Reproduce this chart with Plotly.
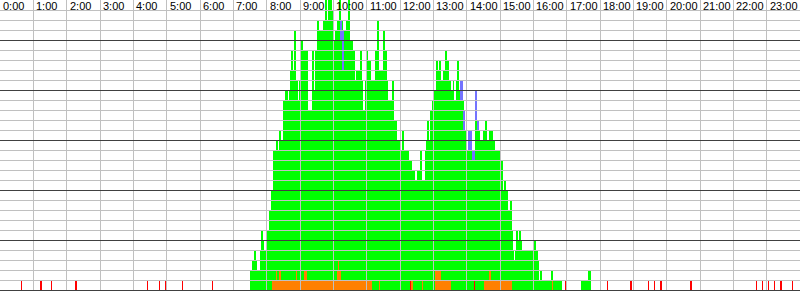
import math
import plotly.graph_objects as go

# ---- data (minutes of day) ----
hour_labels = ["0:00", "1:00", "2:00", "3:00", "4:00", "5:00", "6:00", "7:00",
               "8:00", "9:00", "10:00", "11:00", "12:00", "13:00", "14:00", "15:00",
               "16:00", "17:00", "18:00", "19:00", "20:00", "21:00", "22:00", "23:00"]

seg_start = [450, 454, 457, 461, 462, 468, 470, 473, 476, 478, 480, 485, 489, 492, 493, 496, 497, 499, 500, 502,
             503, 505, 509, 510, 513, 515, 517, 518, 521, 522, 524, 526, 530, 533, 535, 539, 541, 545, 546, 550,
             551, 553, 559, 561, 563, 565, 567, 571, 575, 582, 585, 589, 591, 593, 594, 598, 600, 603, 607, 608,
             611, 613, 615, 617, 619, 623, 628, 630, 636, 637, 639, 642, 644, 646, 648, 651, 653, 657, 660, 663,
             668, 669, 675, 679, 681, 682, 684, 690, 693, 696, 699, 706, 710, 714, 720, 725, 728, 736, 738, 740,
             741, 743, 747, 750, 757, 760, 763, 765, 768, 770, 772, 774, 778, 780, 783, 785, 787, 791, 793, 797,
             801, 803, 805, 807, 811, 813, 816, 817, 821, 823, 826, 829, 830, 832, 833, 834, 837, 840, 843, 845,
             846, 848, 849, 853, 855, 856, 859, 862, 864, 870, 871, 874, 877, 881, 884, 886, 891, 894, 896, 897,
             899, 905, 908, 911, 914, 918, 920, 922, 924, 928, 930, 932, 935, 937, 940, 960, 964, 968, 970, 973,
             975, 993, 996, 1012, 1046, 1060]
seg_last_end = 1063

seg_red = [0, 0, 0, 0, 0, 0, 0, 0, 0, 0, 0, 0, 0, 0, 0, 0, 0, 0, 0, 0,
           0, 0, 0, 0, 0, 0, 0, 0, 0, 0, 0, 0, 0, 0, 0, 0, 0, 0, 0, 0,
           0, 0, 0, 0, 0, 0, 0, 0, 0, 0, 0, 0, 0, 0, 0, 0, 0, 0, 0, 0,
           0, 0, 0, 0, 0, 0, 0, 0, 0, 0, 0, 0, 0, 0, 0, 0, 0, 0, 0, 0,
           0, 0, 0, 0, 0, 0, 0, 0, 0, 0, 0, 0, 0, 0, 0, 0, 0, 0, 1, 0,
           0, 0, 0, 0, 0, 0, 0, 0, 0, 0, 0, 0, 0, 0, 0, 0, 0, 0, 0, 0,
           0, 0, 1, 0, 0, 0, 0, 0, 0, 0, 0, 0, 0, 0, 0, 0, 0, 0, 0, 0,
           0, 0, 0, 1, 0, 0, 0, 0, 0, 0, 0, 0, 0, 0, 0, 0, 0, 0, 0, 0,
           0, 0, 0, 0, 0, 0, 0, 0, 0, 0, 0, 0, 0, 0, 0, 0, 0, 0, 0, 0,
           0, 0, 0, 0, 0, 0]

seg_orange = [0, 0, 0, 0, 0, 0, 0, 0, 0, 0, 0, 0, 1, 1, 1, 2, 2, 1, 1, 2,
              2, 1, 1, 1, 1, 1, 1, 1, 1, 1, 1, 1, 1, 2, 1, 1, 1, 1, 2, 2,
              2, 1, 1, 1, 1, 1, 1, 1, 1, 1, 1, 1, 1, 1, 1, 1, 1, 1, 2, 3,
              2, 2, 1, 1, 1, 1, 1, 1, 2, 1, 1, 1, 1, 1, 1, 1, 1, 1, 1, 1,
              1, 0, 0, 0, 0, 1, 0, 0, 0, 0, 0, 0, 0, 0, 0, 0, 0, 0, 0, 1,
              1, 0, 0, 0, 0, 1, 0, 0, 0, 0, 0, 0, 0, 0, 2, 2, 2, 2, 1, 1,
              1, 1, 1, 1, 1, 0, 0, 0, 0, 0, 0, 0, 1, 0, 0, 0, 0, 0, 0, 0,
              0, 0, 0, 0, 0, 0, 0, 0, 0, 0, 1, 1, 1, 2, 1, 1, 1, 2, 1, 2,
              1, 1, 1, 1, 1, 1, 1, 0, 0, 0, 0, 0, 0, 0, 0, 0, 0, 0, 0, 0,
              0, 1, 0, 0, 0, 0]

seg_green = [2, 3, 4, 3, 2, 4, 6, 5, 4, 2, 6, 8, 9, 12, 13, 12, 13, 14, 13, 12,
             14, 14, 13, 18, 19, 18, 19, 18, 19, 21, 23, 21, 25, 19, 18, 20, 24, 21, 22, 19,
             22, 17, 14, 17, 23, 19, 23, 26, 25, 26, 28, 26, 28, 26, 28, 27, 24, 25, 25, 24,
             27, 23, 26, 21, 25, 26, 28, 24, 22, 23, 20, 21, 18, 21, 23, 20, 17, 20, 23, 22,
             20, 21, 24, 27, 22, 21, 22, 26, 24, 21, 19, 21, 17, 15, 14, 16, 14, 13, 12, 12,
             11, 12, 11, 12, 14, 10, 11, 14, 15, 17, 15, 18, 19, 20, 18, 21, 20, 21, 20, 21,
             23, 22, 21, 20, 19, 20, 21, 19, 21, 23, 20, 19, 18, 19, 19, 16, 16, 14, 14, 14,
             14, 14, 13, 12, 16, 17, 16, 16, 15, 16, 15, 16, 14, 14, 15, 14, 13, 11, 13, 12,
             12, 9, 10, 9, 7, 8, 5, 4, 3, 4, 6, 5, 6, 5, 4, 5, 4, 3, 1, 2,
             1, 1, 1, 0, 1, 2]

seg_blue = [0, 0, 0, 0, 0, 0, 0, 0, 0, 0, 0, 0, 0, 0, 0, 0, 0, 0, 0, 0,
            0, 0, 0, 0, 0, 0, 0, 0, 0, 0, 0, 0, 0, 0, 0, 0, 0, 0, 0, 0,
            0, 0, 0, 0, 0, 0, 0, 0, 0, 0, 0, 0, 0, 0, 0, 0, 0, 0, 0, 0,
            0, 2, 0, 4, 0, 0, 0, 0, 0, 0, 0, 0, 0, 0, 0, 0, 0, 0, 0, 0,
            0, 0, 0, 0, 0, 0, 0, 0, 0, 0, 0, 0, 0, 0, 0, 0, 0, 0, 0, 0,
            0, 0, 0, 0, 0, 0, 0, 0, 0, 0, 0, 0, 0, 0, 0, 0, 0, 0, 0, 0,
            0, 0, 0, 0, 0, 0, 0, 0, 0, 0, 0, 2, 2, 2, 0, 2, 0, 0, 2, 0,
            2, 0, 1, 1, 0, 3, 1, 0, 0, 0, 0, 0, 0, 0, 0, 0, 0, 0, 0, 0,
            0, 0, 0, 0, 0, 0, 0, 0, 0, 0, 0, 0, 0, 0, 0, 0, 0, 0, 0, 0,
            0, 0, 0, 0, 0, 0]

red_tick_minutes = [38, 73, 92, 136, 265, 287, 298, 328, 382, 1018, 1093, 1135,
                    1167, 1178, 1189, 1243, 1361, 1372, 1383, 1394, 1405, 1426]
red_tick_count = [1] * len(red_tick_minutes)

# ---- figure ----
W, H = 800, 291
DAY = 1440
widths = [seg_start[i + 1] - seg_start[i] for i in range(len(seg_start) - 1)] + [seg_last_end - seg_start[-1]]

fig = go.Figure()
common = dict(offset=0, marker_line_width=0, hoverinfo="skip")
fig.add_trace(go.Bar(x=seg_start, y=seg_red, width=widths, marker_color="#ff0000", **common))
fig.add_trace(go.Bar(x=red_tick_minutes, y=red_tick_count, width=1, marker_color="#ff0000", **common))
fig.add_trace(go.Bar(x=seg_start, y=seg_orange, width=widths, marker_color="#ff8000", **common))
fig.add_trace(go.Bar(x=seg_start, y=seg_green, width=widths, marker_color="#00ff00", **common))
fig.add_trace(go.Bar(x=seg_start, y=seg_blue, width=widths, marker_color="#7373ff", **common))

px_per_min = W / DAY
shapes = []
# vertical hour lines
for h in range(1, 24):
    col = math.floor(h * W / 24)
    xm = (col + 0.5) / px_per_min
    shapes.append(dict(type="line", xref="x", yref="paper", x0=xm, x1=xm, y0=0, y1=1,
                       line=dict(color="#c0c0c0", width=1), layer="above"))
# horizontal lines (light, then dark every 5)
for k in range(0, 29):
    if k % 5 != 0:
        shapes.append(dict(type="line", xref="paper", yref="y", x0=0, x1=1, y0=k - 0.05, y1=k - 0.05,
                           line=dict(color="#c0c0c0", width=1), layer="above"))
for k in range(0, 29, 5):
    shapes.append(dict(type="line", xref="paper", yref="y", x0=0, x1=1, y0=k - 0.05, y1=k - 0.05,
                       line=dict(color="#404040", width=1), layer="above"))

annotations = []
for h, lab in enumerate(hour_labels):
    annotations.append(dict(x=h * 60, y=1, xref="x", yref="paper", text=lab, showarrow=False,
                            xanchor="left", yanchor="top", xshift=1, yshift=2,
                            font=dict(family="Liberation Sans Narrow, Arial Narrow, Liberation Sans, Arial, sans-serif",
                                      size=11, color="#000000")))

fig.update_layout(
    width=W, height=H, margin=dict(l=0, r=0, t=0, b=0),
    barmode="stack", showlegend=False,
    plot_bgcolor="#ffffff", paper_bgcolor="#ffffff",
    xaxis=dict(range=[0, DAY], visible=False, fixedrange=True),
    yaxis=dict(range=[-0.1, 29], visible=False, fixedrange=True),
    shapes=shapes, annotations=annotations,
)
fig.write_html("out.html")
